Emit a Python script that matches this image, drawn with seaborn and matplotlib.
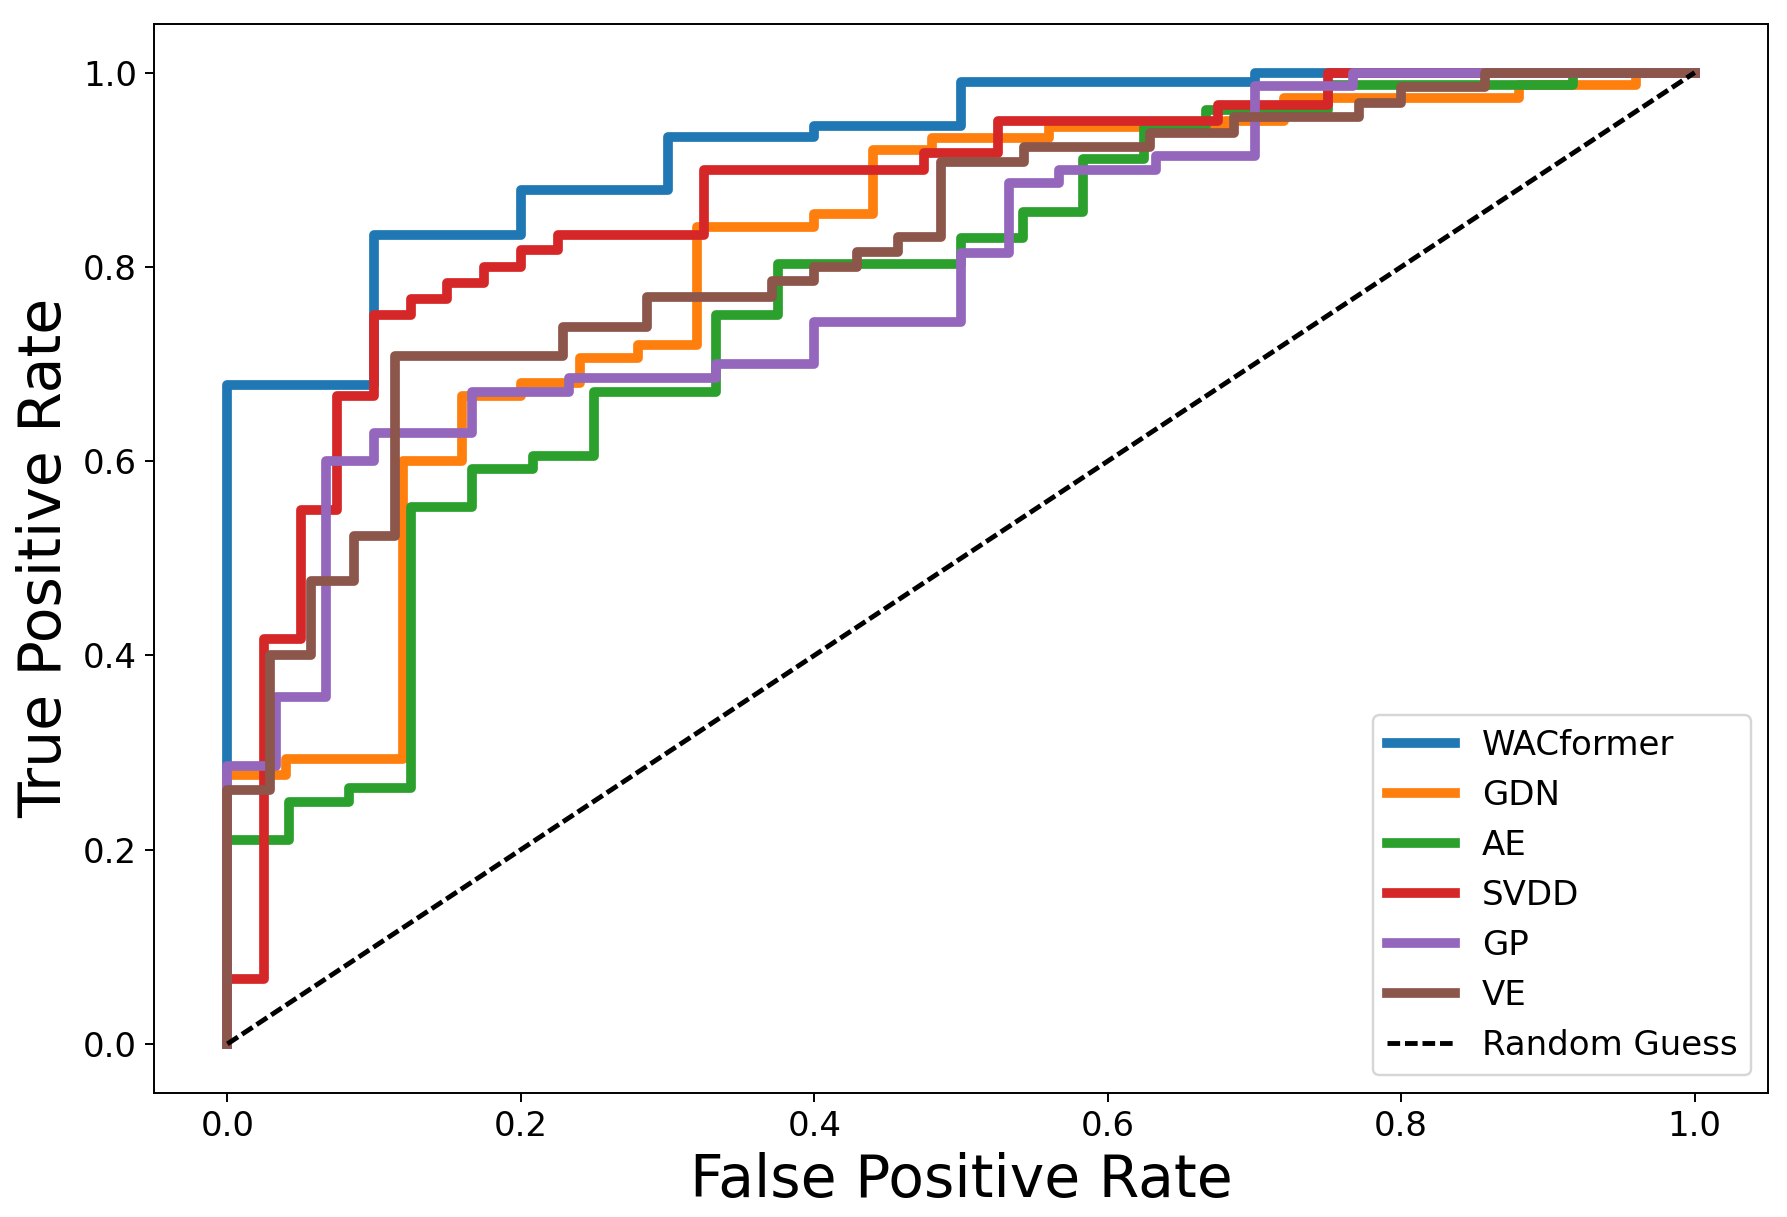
import matplotlib
matplotlib.use('Agg')
import matplotlib.pyplot as plt
import seaborn as sns
import pandas as pd

# ROC curves (step corners, in drawing order)
wac_fpr = [0, 0, 0.1, 0.1, 0.2, 0.2, 0.3, 0.3, 0.4, 0.4, 0.5, 0.5, 0.7, 0.7, 1.0]
wac_tpr = [0, 0.678, 0.678, 0.833, 0.833, 0.879, 0.879, 0.934, 0.934, 0.945, 0.945, 0.990, 0.990, 1.0, 1.0]

gdn_fpr = [0, 0, 0.04, 0.04, 0.12, 0.12, 0.16, 0.16, 0.20, 0.20, 0.24, 0.24, 0.28, 0.28, 0.32, 0.32,
           0.40, 0.40, 0.44, 0.44, 0.48, 0.48, 0.56, 0.56, 0.68, 0.68, 0.72, 0.72, 0.88, 0.88, 0.96, 0.96, 1.0]
gdn_tpr = [0, 0.277, 0.277, 0.293, 0.293, 0.600, 0.600, 0.667, 0.667, 0.680, 0.680, 0.706, 0.706, 0.720, 0.720, 0.841,
           0.841, 0.854, 0.854, 0.920, 0.920, 0.933, 0.933, 0.944, 0.944, 0.950, 0.950, 0.974, 0.974, 0.987, 0.987, 1.0, 1.0]

ae_fpr = [0, 0, 0.042, 0.042, 0.083, 0.083, 0.125, 0.125, 0.167, 0.167, 0.208, 0.208, 0.25, 0.25, 0.333, 0.333,
          0.375, 0.375, 0.5, 0.5, 0.542, 0.542, 0.583, 0.583, 0.625, 0.625, 0.667, 0.667, 0.75, 0.75, 0.917, 0.917, 1.0]
ae_tpr = [0, 0.210, 0.210, 0.249, 0.249, 0.263, 0.263, 0.553, 0.553, 0.592, 0.592, 0.605, 0.605, 0.671, 0.671, 0.750,
          0.750, 0.803, 0.803, 0.830, 0.830, 0.856, 0.856, 0.911, 0.911, 0.945, 0.945, 0.961, 0.961, 0.987, 0.987, 1.0, 1.0]

svdd_fpr = [0, 0, 0.025, 0.025, 0.05, 0.05, 0.075, 0.075, 0.1, 0.1, 0.125, 0.125, 0.15, 0.15, 0.175, 0.175,
            0.2, 0.2, 0.225, 0.225, 0.325, 0.325, 0.475, 0.475, 0.525, 0.525, 0.675, 0.675, 0.75, 0.75, 1.0]
svdd_tpr = [0, 0.067, 0.067, 0.417, 0.417, 0.550, 0.550, 0.667, 0.667, 0.750, 0.750, 0.767, 0.767, 0.783, 0.783, 0.800,
            0.800, 0.817, 0.817, 0.833, 0.833, 0.900, 0.900, 0.917, 0.917, 0.950, 0.950, 0.967, 0.967, 1.0, 1.0]

gp_fpr = [0, 0, 0.033, 0.033, 0.067, 0.067, 0.1, 0.1, 0.167, 0.167, 0.233, 0.233, 0.333, 0.333, 0.4, 0.4,
          0.5, 0.5, 0.533, 0.533, 0.567, 0.567, 0.633, 0.633, 0.7, 0.7, 0.767, 0.767, 1.0]
gp_tpr = [0, 0.286, 0.286, 0.357, 0.357, 0.600, 0.600, 0.629, 0.629, 0.671, 0.671, 0.686, 0.686, 0.700, 0.700, 0.743,
          0.743, 0.814, 0.814, 0.886, 0.886, 0.900, 0.900, 0.914, 0.914, 0.986, 0.986, 1.0, 1.0]

ve_fpr = [0, 0, 0.029, 0.029, 0.057, 0.057, 0.086, 0.086, 0.114, 0.114, 0.229, 0.229, 0.286, 0.286, 0.371, 0.371,
          0.4, 0.4, 0.429, 0.429, 0.457, 0.457, 0.486, 0.486, 0.543, 0.543, 0.629, 0.629, 0.686, 0.686,
          0.771, 0.771, 0.8, 0.8, 0.857, 0.857, 1.0]
ve_tpr = [0, 0.261, 0.261, 0.400, 0.400, 0.477, 0.477, 0.523, 0.523, 0.708, 0.708, 0.738, 0.738, 0.769, 0.769, 0.785,
          0.785, 0.800, 0.800, 0.815, 0.815, 0.831, 0.831, 0.908, 0.908, 0.923, 0.923, 0.938, 0.938, 0.954,
          0.954, 0.969, 0.969, 0.985, 0.985, 1.0, 1.0]

models = ['WACformer', 'GDN', 'AE', 'SVDD', 'GP', 'VE']
curves = [(wac_fpr, wac_tpr), (gdn_fpr, gdn_tpr), (ae_fpr, ae_tpr),
          (svdd_fpr, svdd_tpr), (gp_fpr, gp_tpr), (ve_fpr, ve_tpr)]
colors = sns.color_palette('tab10', len(models))

dpi = 175
fig = plt.figure(figsize=(1787 / dpi, 1217 / dpi), dpi=dpi)
ax = fig.add_axes([0.0862, 0.1023, 0.9032, 0.878])

for name, (fpr, tpr), c in zip(models, curves, colors):
    df = pd.DataFrame({'fpr': fpr, 'tpr': tpr})
    sns.lineplot(data=df, x='fpr', y='tpr', sort=False, estimator=None,
                 color=c, linewidth=4, label=name, ax=ax)

sns.lineplot(x=[0, 1], y=[0, 1], color='black', linewidth=2,
             label='Random Guess', ax=ax)
ax.lines[-1].set_dashes((2.6, 1.0))

ax.set_xlabel('False Positive Rate', fontsize=24)
ax.set_ylabel('True Positive Rate', fontsize=24)
ax.tick_params(labelsize=14)
ax.legend(loc='lower right', fontsize=14)

fig.savefig('out.png', dpi=dpi)
